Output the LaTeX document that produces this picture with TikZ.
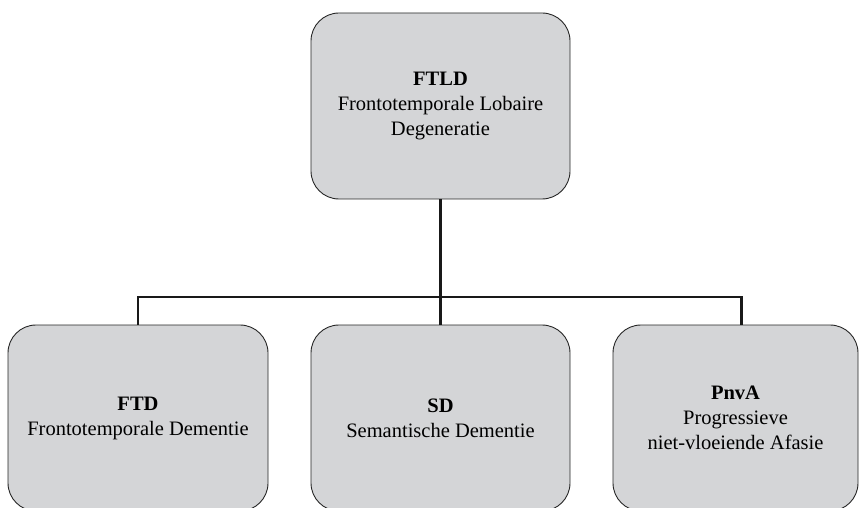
\documentclass[tikz,border=0pt]{standalone}
\usepackage{fontspec}
\setmainfont{Liberation Serif}
\usetikzlibrary{positioning}
\definecolor{boxgray}{RGB}{212,213,215}
\tikzset{
  ftbox/.style={draw=black!85,fill=boxgray,line width=0.9pt,rounded corners=28pt,
    align=center,inner sep=0pt,font=\fontsize{20.5}{25}\selectfont},
  link/.style={line width=2.4pt,black!90}
}

\begin{document}
\begin{tikzpicture}[x=1pt,y=-1pt]
                    \useasboundingbox (0,0) rectangle (863,508);
                    \node[ftbox,minimum width=259pt,minimum height=186pt] (ftld) at (440.5,106)
                        {\textbf{FTLD}\\Frontotemporale Lobaire\\Degeneratie};
                    \node[ftbox,minimum width=260pt,minimum height=186pt] (ftd) at (138,418)
                        {\textbf{FTD}\\Frontotemporale Dementie};
                    \node[ftbox,minimum width=259pt,minimum height=186pt] (sd) at (440.5,418)
                        {\textbf{SD}\\Semantische Dementie};
                    \node[ftbox,minimum width=245pt,minimum height=186pt] (pnva) at (735.5,418)
                        {\textbf{PnvA}\\Progressieve\\niet-vloeiende Afasie};
                    \coordinate (bar) at (440.5,297);
                    \draw[link] (ftld.south) -- (bar);
                    \draw[link] (bar) -- (sd.north);
                    \draw[link] (ftd.north) |- (bar) -| ([xshift=6pt]pnva.north);
                \end{tikzpicture}
\end{document}
